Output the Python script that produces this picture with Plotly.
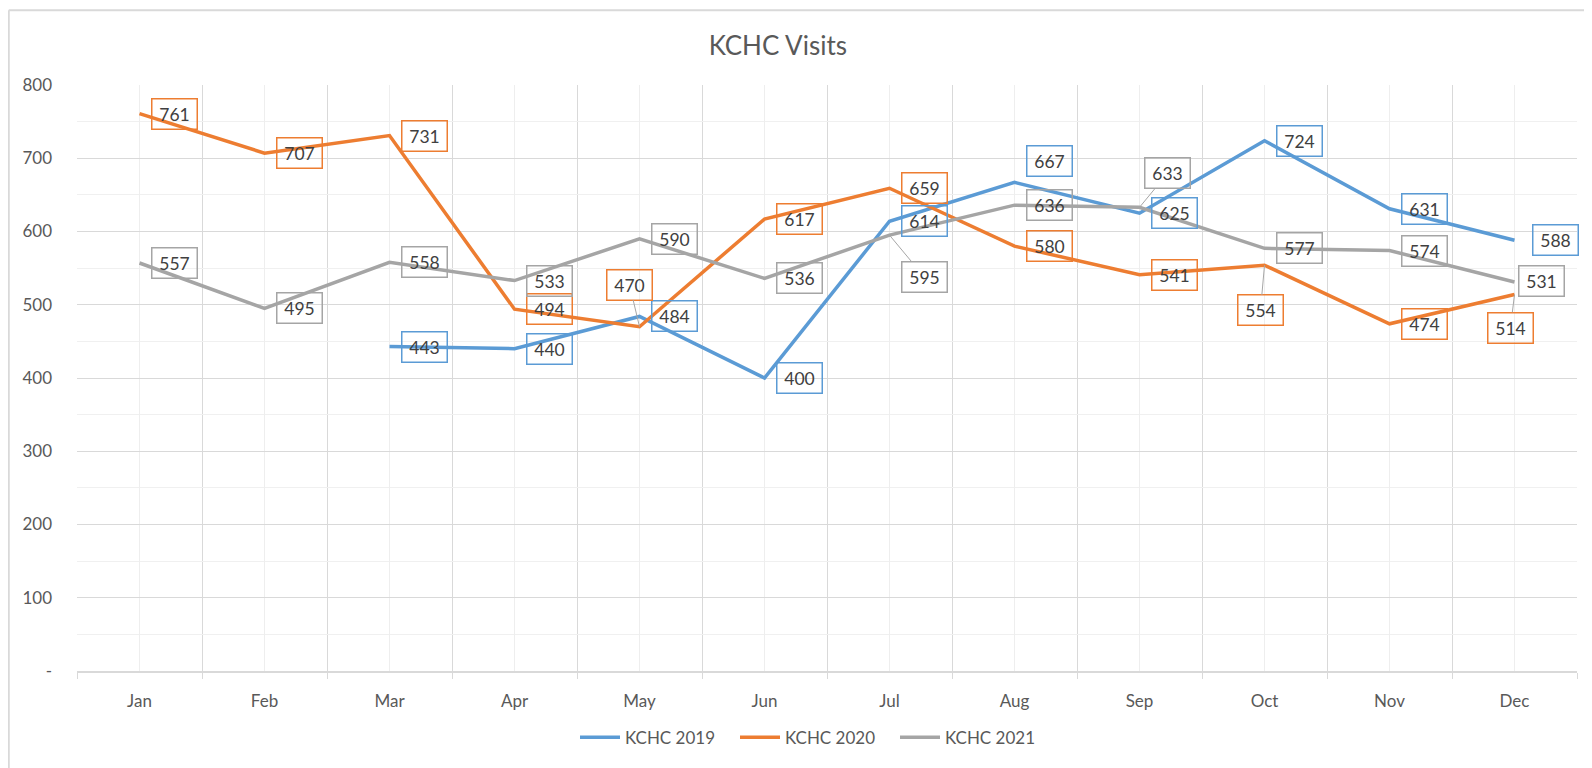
import plotly.graph_objects as go

months = ["Jan", "Feb", "Mar", "Apr", "May", "Jun", "Jul", "Aug", "Sep", "Oct", "Nov", "Dec"]
kchc_2019 = [None, None, 443, 440, 484, 400, 614, 667, 625, 724, 631, 588]
kchc_2020 = [761, 707, 731, 494, 470, 617, 659, 580, 541, 554, 474, 514]
kchc_2021 = [557, 495, 558, 533, 590, 536, 595, 636, 633, 577, 574, 531]
y_tickvals = [0, 100, 200, 300, 400, 500, 600, 700, 800]
y_ticktext = ["-", "100", "200", "300", "400", "500", "600", "700", "800"]

series = [
    ("KCHC 2019", kchc_2019, "#5B9BD5"),
    ("KCHC 2020", kchc_2020, "#ED7D31"),
    ("KCHC 2021", kchc_2021, "#A5A5A5"),
]

# label placement (pixels; dx right, dy down), default and per-point overrides
default_off = (35, 0)
label_off = {
    ("KCHC 2019", 7): (35, -21),
    ("KCHC 2019", 11): (41, 0),
    ("KCHC 2020", 4): (-10, -42),
    ("KCHC 2020", 9): (-4, 45),
    ("KCHC 2020", 11): (-4, 33),
    ("KCHC 2021", 6): (35, 42),
    ("KCHC 2021", 8): (28, -34),
    ("KCHC 2021", 11): (27, -1),
}
leaders = {("KCHC 2020", 4), ("KCHC 2020", 9), ("KCHC 2020", 11),
           ("KCHC 2021", 6), ("KCHC 2021", 8)}

FONT = "Lato"
TXT = "#595959"

fig = go.Figure()
x_idx = list(range(len(months)))
annotations = []
for name, vals, color in series:
    fig.add_trace(go.Scatter(
        x=x_idx, y=vals, name=name, mode="lines",
        line=dict(color=color, width=3.5),
        connectgaps=False,
    ))
    for i, v in enumerate(vals):
        if v is None:
            continue
        dx, dy = label_off.get((name, i), default_off)
        common = dict(
            x=i, y=v, xref="x", yref="y", text=str(v),
            font=dict(family=FONT, size=17.5, color="#404040"),
            bordercolor=color, borderwidth=1.5, borderpad=2,
            width=40, height=25, align="center", valign="middle",
            bgcolor="rgba(0,0,0,0)",
        )
        if (name, i) in leaders:
            annotations.append(dict(
                **common, showarrow=True, ax=dx, ay=dy, axref="pixel", ayref="pixel",
                arrowhead=0, arrowwidth=1, arrowcolor="#A6A6A6", standoff=0,
            ))
        else:
            annotations.append(dict(**common, showarrow=False, xshift=dx, yshift=-dy))

# outer chart border (top and left visible)
shapes = [
    dict(type="line", xref="paper", yref="paper", x0=-0.0455, x1=1.02, y0=1.1275, y1=1.1275,
         line=dict(color="#D9D9D9", width=2)),
    dict(type="line", xref="paper", yref="paper", x0=-0.0455, x1=-0.0455, y0=-0.17, y1=1.1275,
         line=dict(color="#D9D9D9", width=2)),
]

fig.update_layout(
    width=1584, height=760,
    margin=dict(l=69, r=15, t=77, b=94),
    paper_bgcolor="white", plot_bgcolor="white",
    title=dict(text="KCHC Visits", x=0.486, xanchor="center", y=1 - 38 / 760, yanchor="middle",
               font=dict(family=FONT, size=26, color=TXT)),
    showlegend=True,
    legend=dict(orientation="h", x=0.492, xanchor="center", y=-0.114, yanchor="middle",
                font=dict(family=FONT, size=17, color=TXT), itemwidth=40,
                entrywidth=105, entrywidthmode="pixels",
                bgcolor="rgba(0,0,0,0)"),
    annotations=annotations,
    shapes=shapes,
    xaxis=dict(
        range=[-0.5, 11.5], tickmode="array", tickvals=x_idx, ticktext=months,
        showgrid=True, gridcolor="#EEEEEE", gridwidth=1,
        zeroline=False, showline=True, linecolor="#D9D9D9", linewidth=1.5,
        ticks="", ticklabelstandoff=14,
        tickfont=dict(family=FONT, size=17, color=TXT),
        minor=dict(tick0=-0.5, dtick=1, showgrid=True, gridcolor="#D9D9D9", gridwidth=1,
                   ticks="outside", ticklen=6, tickcolor="#D9D9D9"),
        fixedrange=True,
    ),
    yaxis=dict(
        range=[0, 800], tickmode="array", tickvals=y_tickvals, ticktext=y_ticktext,
        showgrid=True, gridcolor="#D9D9D9", gridwidth=1,
        zeroline=False, showline=False, ticks="", ticklabelstandoff=24,
        tickfont=dict(family=FONT, size=17, color=TXT),
        minor=dict(dtick=50, tick0=0, showgrid=True, gridcolor="#F0F0F0", gridwidth=1),
        fixedrange=True,
    ),
)

fig.write_html("out.html")
